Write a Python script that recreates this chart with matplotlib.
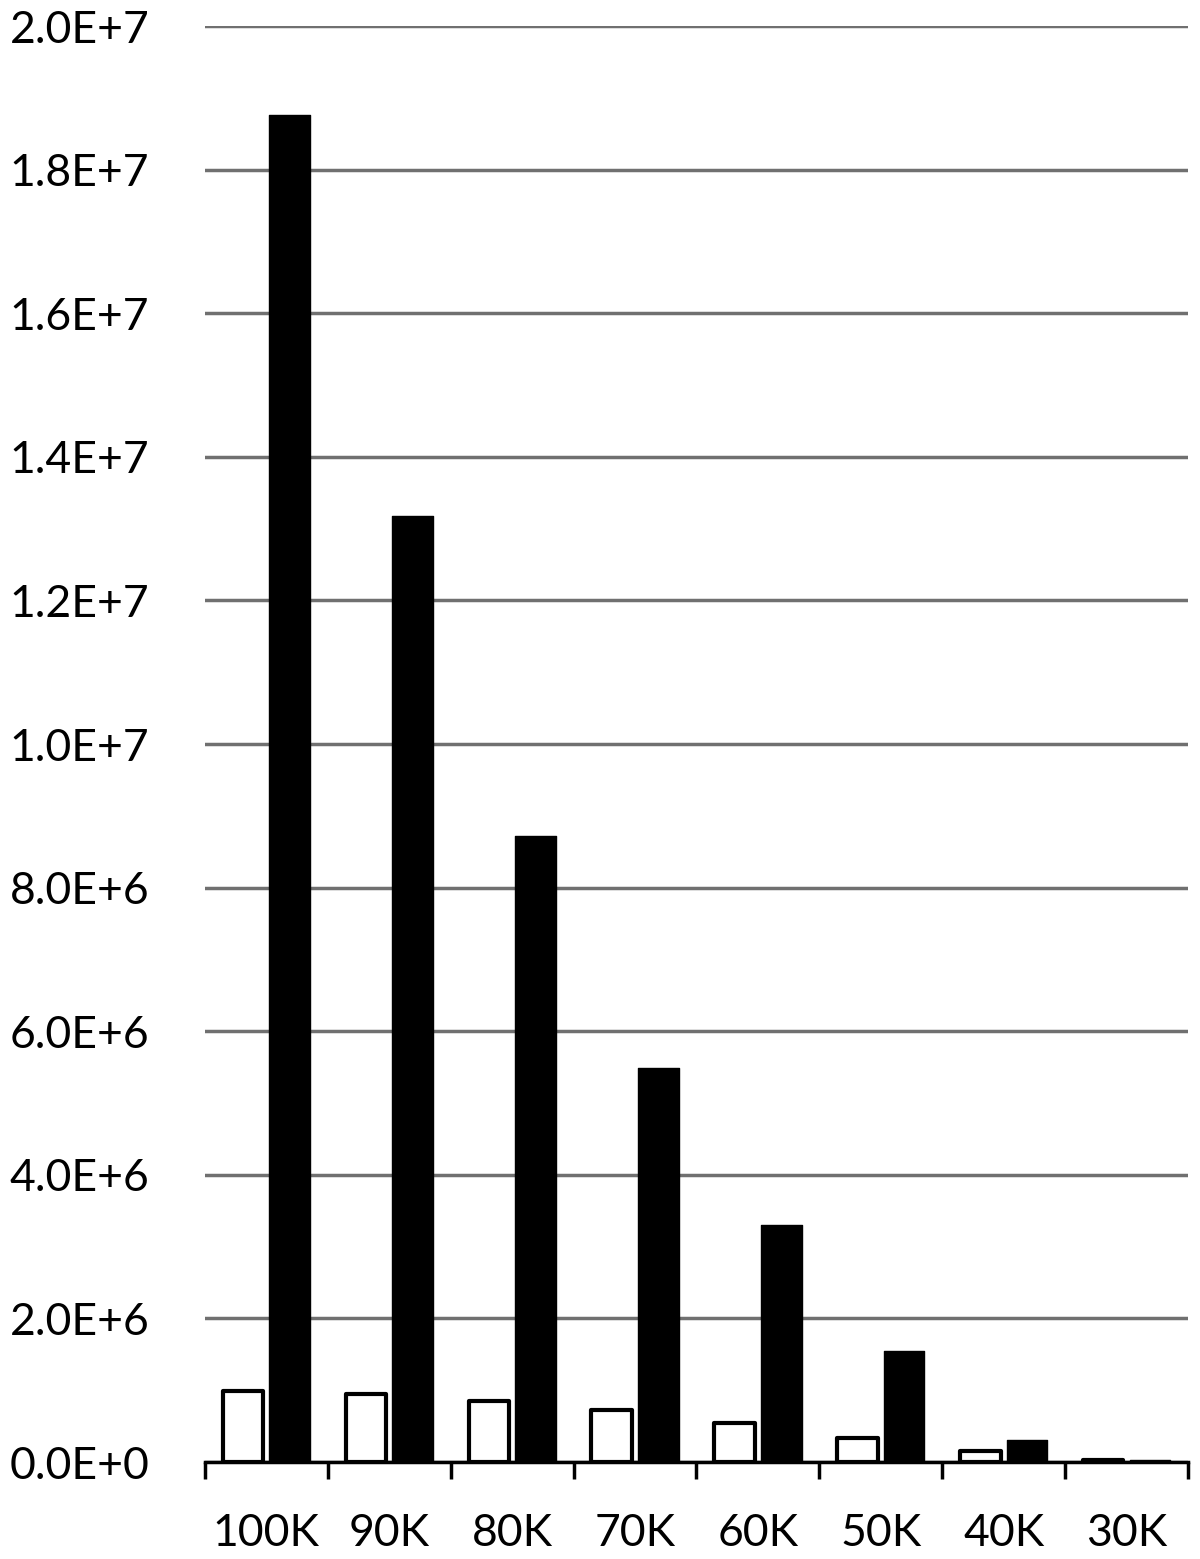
import matplotlib
matplotlib.use("Agg")
import matplotlib.pyplot as plt
import numpy as np
from matplotlib.ticker import FixedLocator

categories = ["100K", "90K", "80K", "70K", "60K", "50K", "40K", "30K"]
white_values = [0.99e6, 0.95e6, 0.85e6, 0.72e6, 0.54e6, 0.33e6, 0.15e6, 0.03e6]
black_values = [18.76e6, 13.18e6, 8.72e6, 5.49e6, 3.30e6, 1.55e6, 0.31e6, 0.03e6]
ytick_values = [0, 2e6, 4e6, 6e6, 8e6, 1e7, 1.2e7, 1.4e7, 1.6e7, 1.8e7, 2e7]
ytick_labels = ["0.0E+0", "2.0E+6", "4.0E+6", "6.0E+6", "8.0E+6", "1.0E+7",
                "1.2E+7", "1.4E+7", "1.6E+7", "1.8E+7", "2.0E+7"]

plt.rcParams['font.family'] = ['Lato', 'DejaVu Sans']

fig = plt.figure(figsize=(12, 15.59), dpi=100)
ax = fig.add_axes([0.1708, 0.0622, 0.8192, 0.9211])

x = np.arange(len(categories))
w = 0.33
ax.bar(x - 0.19, white_values, width=w, color="white", edgecolor="black", linewidth=3,
       joinstyle="round", zorder=3)
ax.bar(x + 0.19, black_values, width=w, color="black", edgecolor="black", linewidth=1,
       joinstyle="round", zorder=3)

ax.set_xlim(-0.5, len(categories) - 0.5)
ax.set_ylim(0, 2e7)
ax.set_yticks(ytick_values)
ax.set_yticklabels(ytick_labels, fontsize=32)
ax.yaxis.grid(True, color="#707070", linewidth=2.5, zorder=0)
ax.tick_params(axis="y", length=0, pad=40)

ax.set_xticks(x)
ax.set_xticklabels(categories, fontsize=32)
ax.xaxis.set_minor_locator(FixedLocator(np.arange(-0.5, len(categories), 1.0)))
ax.tick_params(axis="x", which="major", length=0, pad=37)
ax.tick_params(axis="x", which="minor", length=12, width=2.5, color="black")

for s in ["top", "right", "left"]:
    ax.spines[s].set_visible(False)
ax.spines["bottom"].set_linewidth(2.5)
ax.spines["bottom"].set_zorder(4)

fig.savefig("out.png", dpi=100)
